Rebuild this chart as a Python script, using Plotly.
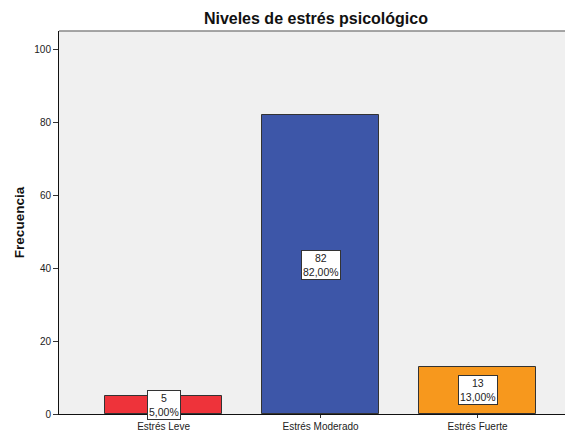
import plotly.graph_objects as go

categories = ["Estrés Leve", "Estrés Moderado", "Estrés Fuerte"]
counts = [5, 82, 13]
percents = ["5,00%", "82,00%", "13,00%"]
colors = ["#EE333A", "#3D56A8", "#F7981D"]
y_ticks = [0, 20, 40, 60, 80, 100]

FONT = "Liberation Sans, Arial, sans-serif"

fig = go.Figure()
fig.add_trace(go.Bar(
    x=categories, y=counts, width=0.745,
    marker=dict(color=colors, line=dict(color="#333333", width=1)),
    hoverinfo="skip",
))

for c, v, p in zip(categories, counts, percents):
    fig.add_annotation(
        x=c, y=v / 2, text=f"{v}<br>{p}", showarrow=False,
        font=dict(family=FONT, size=10.5, color="#222222"),
        bgcolor="white", bordercolor="#333333", borderwidth=1, borderpad=1,
    )

fig.add_shape(type="line", xref="paper", yref="paper", x0=0, x1=1, y0=1, y1=1,
              line=dict(color="#888888", width=1.5))

fig.update_layout(
    width=565, height=422,
    margin=dict(l=51, r=0, t=23, b=16, autoexpand=False),
    paper_bgcolor="white", plot_bgcolor="#F0F0F0",
    showlegend=False,
    title=dict(text="<b>Niveles de estrés psicológico</b>", x=0.545, xanchor="center",
               y=0.976, yanchor="middle",
               font=dict(family=FONT, size=16, color="#111111")),
    font=dict(family=FONT),
    bargap=0,
)
fig.update_xaxes(
    range=[-0.666, 2.608], showgrid=False, zeroline=False, automargin=False,
    showline=True, linecolor="#111111", linewidth=1,
    ticks="outside", ticklen=3, tickcolor="#333333",
    tickfont=dict(family=FONT, size=10, color="#222222"),
)
fig.update_yaxes(
    range=[0, 105.2], tickvals=y_ticks, showgrid=False, zeroline=False, automargin=False,
    showline=True, linecolor="#111111", linewidth=1,
    ticks="outside", ticklen=5, tickcolor="#333333",
    tickfont=dict(family=FONT, size=10, color="#222222"),
    title=dict(text="<b>Frecuencia</b>", standoff=6,
               font=dict(family=FONT, size=13.5, color="#111111")),
)

fig.write_html("out.html")
